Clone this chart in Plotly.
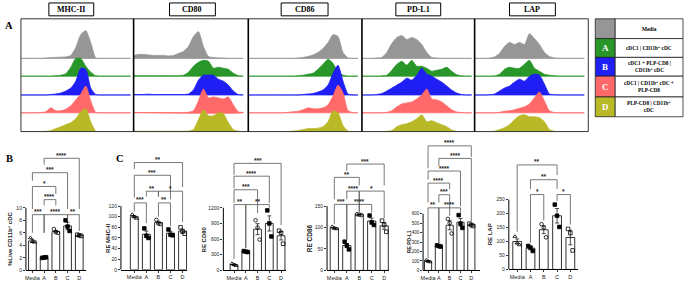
import plotly.graph_objects as go

W, H = 685, 283


def px(x):
    return x / W


def py(y):
    return 1 - y / H


# ---------------- DATA ----------------
CONDITIONS = ["Media", "A", "B", "C", "D"]
MARKERS = ["MHC-II", "CD80", "CD86", "PD-L1", "LAP"]
COND_COLORS = ["rgb(150,150,150)", "rgb(40,150,40)", "rgb(30,30,245)",
               "rgb(255,105,105)", "rgb(185,185,40)"]

# histogram channel grid (relative fluorescence bins) and counts per condition
HIST_X = list(range(0, 115, 5))
HIST_MHCII = [
    [0, 0, 0, 0, 0, 0.3, 0.8, 1, 1.2, 1.5, 3, 11, 24, 28, 16, 0.5, 0, 0, 0, 0, 0, 0, 0],
    [0, 0, 0, 0, 0, 0, 0, 0.5, 1, 2.5, 9, 18, 18, 10, 4, 0.5, 0, 0, 0, 0, 0, 0, 0],
    [0, 0, 0, 0, 0, 0, 0.5, 1, 2, 4, 7, 14, 27, 26, 7, 0.5, 0, 0, 0, 0, 0, 0, 0],
    [0, 0, 0, 0, 0.3, 1, 5, 2, 2, 3.5, 7, 13, 19, 27, 12, 0.5, 0, 0, 0, 0, 0, 0, 0],
    [0, 0, 0, 0, 0, 0.3, 1, 3, 5, 7, 9, 13, 20, 23, 10, 0.5, 0, 0, 0, 0, 0, 0, 0],
]
HIST_CD80 = [
    [3, 4, 4, 3.5, 3, 3, 3, 2.5, 3, 5, 7, 12, 22, 27, 12, 2, 0.8, 0.5, 0.3, 0, 0, 0, 0],
    [0.5, 0.5, 0.5, 0.5, 0.5, 0.5, 0.5, 0.5, 0.5, 0.5, 1, 4, 10, 14, 16, 15, 8, 9, 8, 7, 3, 0.5, 0],
    [0.5, 0.5, 0.5, 0.8, 0.5, 0.5, 0.5, 0.5, 0.5, 0.5, 0.5, 1, 5, 15, 20, 20, 20, 16, 14, 10, 4, 0.5, 0],
    [0.3, 0.3, 0.3, 0.3, 0.3, 0.3, 0.3, 0.3, 0.3, 0.3, 0.3, 0.5, 2, 12, 24, 15, 16, 15, 14, 16, 8, 1, 0.3],
    [0.3, 0.3, 0.3, 0.3, 0.3, 0.3, 0.3, 0.3, 0.3, 0.3, 0.3, 0.5, 2, 12, 22, 16, 16, 19, 18, 9, 2, 0.3, 0],
]
HIST_CD86 = [
    [0, 0, 0, 0, 0, 0, 0, 0, 0, 0, 0.5, 1, 2, 3.5, 6, 10, 16, 24, 22, 6, 0.5, 0, 0],
    [0, 0, 0, 0, 0, 0, 0, 0, 0, 0, 0.5, 1, 2, 3, 7, 12, 17, 13, 4, 1, 0, 0, 0],
    [0, 0, 0, 0, 0, 0, 0, 0, 0, 0, 0, 0.5, 1, 1.5, 3, 5, 10, 22, 30, 14, 1, 0, 0],
    [0, 0, 0, 0, 0, 0, 0, 0, 0.5, 1, 1.5, 3, 5, 4, 4, 5, 8, 17, 28, 20, 2, 0.3, 0],
    [0, 0, 0, 0, 0, 0, 0, 0, 0, 0.5, 1, 2, 3, 3, 3.5, 5, 10, 21, 19, 6, 0.5, 0, 0],
]
HIST_PDL1 = [
    [0, 0, 0, 0.3, 1, 6, 15, 21, 23, 19, 21, 19, 14, 6, 1, 0.3, 0, 0, 0, 0, 0, 0, 0],
    [0, 0, 0, 0, 0.3, 1, 6, 12, 15, 11, 16, 10, 10, 8, 5, 6, 7, 9, 5, 1.5, 0.3, 0, 0],
    [0, 0, 0, 0.5, 1.5, 4, 7, 10, 13, 17, 15, 20, 27, 21, 19, 16, 13, 9, 5, 2, 0.5, 0, 0],
    [0, 0, 0, 0, 0, 0.5, 2, 6, 9, 10, 11, 14, 18, 24, 14, 13, 11, 7, 3, 0.8, 0.3, 0, 0],
    [0, 0, 0, 0, 0, 0.3, 1, 5, 7, 8, 10, 13, 17, 10, 11, 9, 7, 5, 1.5, 0.3, 0, 0, 0],
]
HIST_LAP = [
    [0, 0, 0, 0.3, 1.5, 5, 12, 16, 14, 16, 14, 25, 20, 14, 6, 2, 0.5, 0, 0, 0, 0, 0, 0],
    [0, 0, 0, 0, 0.3, 2, 7, 9, 8, 8, 12, 16, 8, 5, 2, 1, 0.5, 0, 0, 0, 0, 0, 0],
    [0, 0, 0, 0.3, 1, 4, 7, 9, 13, 16, 14, 19, 21, 20, 11, 1, 0.3, 0, 0, 0, 0, 0, 0],
    [0, 0, 0, 0, 0, 0.5, 1.5, 2, 3, 4.5, 6, 9, 15, 21, 12, 2, 0.3, 0, 0, 0, 0, 0, 0],
    [0, 0, 0, 0, 0.5, 2, 4, 7, 12, 16, 17, 15, 15, 14, 10, 2, 0.3, 0, 0, 0, 0, 0, 0],
]
HISTS = [HIST_MHCII, HIST_CD80, HIST_CD86, HIST_PDL1, HIST_LAP]

LEGEND_LETTERS = ["", "A", "B", "C", "D"]
LEGEND_TEXT = ["Media", "cDC1 | CD11b<sup>+</sup> cDC",
               "cDC1 + PLP-CD8 |<br>CD11b<sup>+</sup> cDC",
               "cDC1 | CD11b<sup>+</sup> cDC +<br>PLP-CD8",
               "PLP-CD8 | CD11b<sup>+</sup><br>cDC"]

# bar panels: means, SEM, replicate points, brackets (i, j, y, label, left-leg end, right-leg end)
B_TITLE = "%Live CD11b<sup>+</sup> cDC"
B_TICKS = [0, 2, 4, 6, 8, 10]
B_MEANS = [4.7, 2.0, 6.2, 7.1, 5.6]
B_SEM = [0.25, 0.05, 0.2, 0.6, 0.1]
B_POINTS = [[5.2, 4.6, 4.5], [2.0, 2.05, 2.1], [6.6, 6.1, 6.0], [8.0, 7.0, 6.3], [5.7, 5.6, 5.5]]
B_BRACKETS = [(0, 1, 8.9, "***", 6.0, 6.0), (1, 3, 8.9, "****", 6.0, 8.3), (3, 4, 8.9, "**", 8.3, 6.3),
              (1, 2, 11.3, "****", 10.4, 10.4), (0, 2, 13.4, "*", 9.8, 12.2),
              (0, 3, 15.6, "***", 14.3, 9.8), (1, 4, 17.9, "****", 16.9, 9.8)]

MHC_TITLE = "RE MHC-II"
MHC_TICKS = [0, 20, 40, 60, 80, 100, 120]
MHC_MEANS = [100, 67, 89, 69, 73]
MHC_SEM = [2, 6, 2.5, 3.5, 3.5]
MHC_POINTS = [[104, 100, 97], [78, 64, 60], [94, 87, 86], [76, 66, 65], [80, 72, 68]]
MHC_BRACKETS = [(0, 1, 126, "***", 110, 88), (2, 3, 126, "**", 100, 82),
                (1, 2, 148, "**", 138, 138), (2, 4, 148, "*", 138, 90),
                (0, 3, 178, "***", 136, 133), (0, 4, 202, "**", 190, 156)]

CD80_TITLE = "RE CD80"
CD80_TICKS = [0, 300, 600, 900, 1200]
CD80_MEANS = [110, 360, 790, 900, 663]
CD80_SEM = [12, 6, 105, 145, 80]
CD80_POINTS = [[130, 110, 92], [370, 358, 352], [960, 820, 590], [1150, 900, 650], [760, 720, 510]]
CD80_BRACKETS = [(0, 1, 1261, "**", 220, 430), (1, 3, 1261, "**", 430, 1200),
                 (0, 2, 1545, "***", 1290, 1100), (0, 3, 1805, "****", 1570, 1290),
                 (0, 4, 2051, "***", 1830, 870)]

CD86_TITLE = "RE CD86"
CD86_TICKS = [0, 50, 100, 150]
CD86_MEANS = [99, 58, 130, 115, 104]
CD86_SEM = [2, 5, 0.7, 7, 8]
CD86_POINTS = [[102, 98, 97], [67, 58, 49], [131, 130, 129], [128, 112, 106], [116, 106, 90]]
CD86_BRACKETS = [(0, 1, 154, "***", 108, 72), (1, 3, 154, "****", 72, 135),
                 (1, 2, 185, "****", 166, 137), (2, 4, 185, "*", 137, 122),
                 (0, 2, 217, "**", 166, 198), (1, 4, 248, "***", 232, 198)]

PDL1_TITLE = "RE PD-L1"
PDL1_TICKS = [0, 100, 200, 300, 400, 500, 600]
PDL1_MEANS = [98, 258, 478, 510, 482]
PDL1_SEM = [5, 4, 48, 40, 8]
PDL1_POINTS = [[108, 97, 90], [265, 258, 252], [545, 500, 390], [585, 495, 450], [495, 480, 470]]
PDL1_BRACKETS = [(0, 1, 662, "**", 130, 290), (1, 3, 662, "****", 290, 610),
                 (1, 2, 801, "***", 720, 580), (0, 2, 924, "****", 720, 860),
                 (0, 3, 1052, "****", 960, 680), (1, 4, 1185, "****", 1100, 520),
                 (0, 4, 1318, "****", 1080, 1200)]

LAP_TITLE = "RE LAP"
LAP_TICKS = [0, 50, 100, 150, 200, 250]
LAP_MEANS = [100, 76, 142, 192, 114]
LAP_SEM = [9, 6, 14, 26, 26]
LAP_POINTS = [[118, 95, 88], [84, 78, 66], [162, 150, 115], [232, 192, 152], [145, 130, 68]]
LAP_BRACKETS = [(1, 2, 268, "*", 95, 175), (3, 4, 268, "*", 245, 160),
                (1, 3, 321, "**", 288, 288), (0, 3, 374, "**", 135, 338)]

POINT_SYMBOLS = ["triangle-up-open", "square", "circle-open", "square", "square-open"]

# ---------------- LAYOUT GEOMETRY (pixels) ----------------
HIST_X_BOUNDS = [(19, 132), (132, 247), (247, 361), (361, 474), (474, 588)]
HIST_TOP, HIST_BOT = 19, 133
ROW_BASE = [74, 56, 37, 19, 0]
TITLE_BOXES = [(47, 92), (168, 214), (280, 327), (395, 440), (509, 555)]

# axis_x, x_end, first center, spacing, zero px, top-tick px, title shift, title size, tick size
BAR_GEOM = [
    (24, 84, 30.5, 11.75, 273.3, 210.0, -16, 6.0, 5),
    (119.3, 186, 132.7, 12.1, 272.7, 208.3, -13, 6.0, 5),
    (222, 285, 232.7, 11.8, 273.3, 210.0, -19, 6.0, 5),
    (326, 388.3, 333.3, 12.5, 273.3, 208.3, -18, 6.5, 5),
    (422.3, 479, 427.3, 10.85, 273.3, 216.0, -14, 5.0, 4.5),
    (508.3, 578, 516.7, 13.33, 272.3, 201.7, -18, 6.0, 5),
]
BAR_TOP_PX = 140
BAR_DATA = [
    (B_TITLE, B_TICKS, B_MEANS, B_SEM, B_POINTS, B_BRACKETS),
    (MHC_TITLE, MHC_TICKS, MHC_MEANS, MHC_SEM, MHC_POINTS, MHC_BRACKETS),
    (CD80_TITLE, CD80_TICKS, CD80_MEANS, CD80_SEM, CD80_POINTS, CD80_BRACKETS),
    (CD86_TITLE, CD86_TICKS, CD86_MEANS, CD86_SEM, CD86_POINTS, CD86_BRACKETS),
    (PDL1_TITLE, PDL1_TICKS, PDL1_MEANS, PDL1_SEM, PDL1_POINTS, PDL1_BRACKETS),
    (LAP_TITLE, LAP_TICKS, LAP_MEANS, LAP_SEM, LAP_POINTS, LAP_BRACKETS),
]
JITTER = [-0.17, 0.0, 0.17]

SERIF = "Liberation Serif, Times New Roman, serif"
SANS = "Liberation Sans, Arial, sans-serif"

fig = go.Figure()
layout = dict(width=W, height=H, margin=dict(l=0, r=0, t=0, b=0), autosize=False,
              paper_bgcolor="white", plot_bgcolor="rgba(0,0,0,0)", showlegend=False)
shapes, annotations = [], []


def ax_names(n):
    s = "" if n == 1 else str(n)
    return "xaxis" + s, "yaxis" + s, "x" + s, "y" + s


def paper_text(x, y, text, font):
    annotations.append(dict(x=px(x), y=py(y), xref="paper", yref="paper", text=text,
                            showarrow=False, xanchor="center", yanchor="middle", font=font))


n = 0
# ---------------- PANEL A: histograms ----------------
for k, (x0, x1) in enumerate(HIST_X_BOUNDS):
    n += 1
    xa, ya, xr, yr = ax_names(n)
    layout[xa] = dict(domain=[px(x0), px(x1)], range=[0, x1 - x0], visible=False,
                      fixedrange=True, anchor=yr)
    layout[ya] = dict(domain=[py(HIST_BOT), py(HIST_TOP)], range=[0, HIST_BOT - HIST_TOP],
                      visible=False, fixedrange=True, anchor=xr)
    for c in range(5):
        vals = HISTS[k][c]
        base = ROW_BASE[c]
        xs = HIST_X + [HIST_X[-1], HIST_X[0]]
        ys = [base + v for v in vals] + [base, base]
        fig.add_trace(go.Scatter(x=xs, y=ys, mode="lines", fill="toself",
                                 fillcolor=COND_COLORS[c],
                                 line=dict(color=COND_COLORS[c], width=0.8, shape="spline",
                                           smoothing=0.6),
                                 hoverinfo="skip", xaxis=xr, yaxis=yr))
    # title box
    bx0, bx1 = TITLE_BOXES[k]
    shapes.append(dict(type="rect", xref="paper", yref="paper", x0=px(bx0), x1=px(bx1),
                       y0=py(16), y1=py(3), line=dict(color="black", width=1),
                       fillcolor="white", layer="below"))
    paper_text((bx0 + bx1) / 2, 9.8, "<b>%s</b>" % MARKERS[k],
               dict(family=SERIF, size=8, color="black"))

shapes.append(dict(type="rect", xref="paper", yref="paper", x0=px(19), x1=px(588),
                   y0=py(HIST_BOT), y1=py(HIST_TOP), line=dict(color="#333", width=1)))
for (x0, x1) in HIST_X_BOUNDS[1:]:
    shapes.append(dict(type="line", xref="paper", yref="paper", x0=px(x0), x1=px(x0),
                       y0=py(HIST_BOT), y1=py(HIST_TOP), line=dict(color="black", width=1.6)))

# legend table
ROW_EDGES = [19, 39, 58, 77, 98, 118]
for c in range(5):
    shapes.append(dict(type="rect", xref="paper", yref="paper", x0=px(595), x1=px(615),
                       y0=py(ROW_EDGES[c + 1]), y1=py(ROW_EDGES[c]), fillcolor=COND_COLORS[c],
                       line=dict(color="#222", width=0.8), layer="below"))
    shapes.append(dict(type="rect", xref="paper", yref="paper", x0=px(615), x1=px(683),
                       y0=py(ROW_EDGES[c + 1]), y1=py(ROW_EDGES[c]), fillcolor="white",
                       line=dict(color="#222", width=0.8), layer="below"))
    ymid = (ROW_EDGES[c] + ROW_EDGES[c + 1]) / 2
    if LEGEND_LETTERS[c]:
        paper_text(605, ymid, "<b>%s</b>" % LEGEND_LETTERS[c],
                   dict(family=SERIF, size=9, color="white"))
    paper_text(649, ymid, "<b>%s</b>" % LEGEND_TEXT[c],
               dict(family=SERIF, size=5.3, color="black"))

# panel letters
for (lx, ly, lt) in [(7, 26, "A"), (8, 160, "B"), (118, 160, "C")]:
    paper_text(lx, ly, "<b>%s</b>" % lt, dict(family=SERIF, size=10.5, color="black"))

# ---------------- PANELS B, C: bar charts ----------------
for p, (geom, data) in enumerate(zip(BAR_GEOM, BAR_DATA)):
    axis_x, x_end, c0, sp, y0px, ttpx, tshift, tsize, ticksize = geom
    title, ticks, means, sems, points, brackets = data
    n += 1
    xa, ya, xr, yr = ax_names(n)
    top_tick = ticks[-1]
    scale = (y0px - ttpx) / top_tick
    ytop = (y0px - BAR_TOP_PX) / scale
    xl = -(c0 - axis_x) / sp
    xrgt = 4 + (x_end - (c0 + 4 * sp)) / sp
    layout[xa] = dict(domain=[px(axis_x), px(x_end)], range=[xl, xrgt], anchor=yr,
                      tickvals=list(range(5)), ticktext=CONDITIONS, ticks="outside",
                      tickangle=0, ticklen=2, tickwidth=0.8, tickcolor="black", showline=True,
                      linecolor="black", linewidth=1, showgrid=False, zeroline=False,
                      tickfont=dict(family=SANS, size=5.5, color="#222"), fixedrange=True)
    layout[ya] = dict(domain=[py(y0px), py(BAR_TOP_PX)], range=[0, ytop], anchor=xr,
                      tickvals=ticks, ticks="outside", ticklen=2, tickwidth=0.8,
                      tickcolor="black", showline=False, showgrid=False, zeroline=False,
                      tickfont=dict(family=SANS, size=ticksize, color="#222"), fixedrange=True)
    # y axis line only up to the top tick
    shapes.append(dict(type="line", xref=xr + " domain", yref=yr, x0=0, x1=0, y0=0,
                       y1=top_tick, line=dict(color="black", width=1)))
    fig.add_trace(go.Bar(x=list(range(5)), y=means, width=0.66,
                         marker=dict(color="white", line=dict(color="#333", width=1)),
                         error_y=dict(type="data", array=sems, color="#222", thickness=0.8,
                                      width=2),
                         hoverinfo="skip", xaxis=xr, yaxis=yr))
    for g in range(5):
        fig.add_trace(go.Scatter(x=[g + j for j in JITTER], y=points[g], mode="markers",
                                 marker=dict(symbol=POINT_SYMBOLS[g], size=3.6, color="black",
                                             line=dict(color="black", width=0.8)),
                                 cliponaxis=False, hoverinfo="skip", xaxis=xr, yaxis=yr))
    for (i, j, yb, lab, yl, yrr) in brackets:
        shapes.append(dict(type="path", xref=xr, yref=yr,
                           path="M %s,%s L %s,%s L %s,%s L %s,%s" % (i, yl, i, yb, j, yb, j, yrr),
                           line=dict(color="#555", width=0.8)))
        annotations.append(dict(x=(i + j) / 2, y=yb, xref=xr, yref=yr, text="<b>%s</b>" % lab,
                                showarrow=False, xanchor="center", yanchor="bottom", yshift=-2.5,
                                font=dict(family=SANS, size=6.5, color="#222")))
    annotations.append(dict(x=0, y=top_tick / 2, xref=xr + " domain", yref=yr,
                            xshift=tshift, text="<b>%s</b>" % title, textangle=-90,
                            xanchor="center", yanchor="middle",
                            showarrow=False, font=dict(family=SANS, size=tsize, color="#222")))

layout["shapes"] = shapes
layout["annotations"] = annotations
fig.update_layout(**layout)
fig.write_html("out.html", config={"displayModeBar": False, "staticPlot": True},
               post_script="document.body.style.margin='0px';"
                           "document.documentElement.style.overflow='hidden';"
                           "document.body.style.overflow='hidden';")
